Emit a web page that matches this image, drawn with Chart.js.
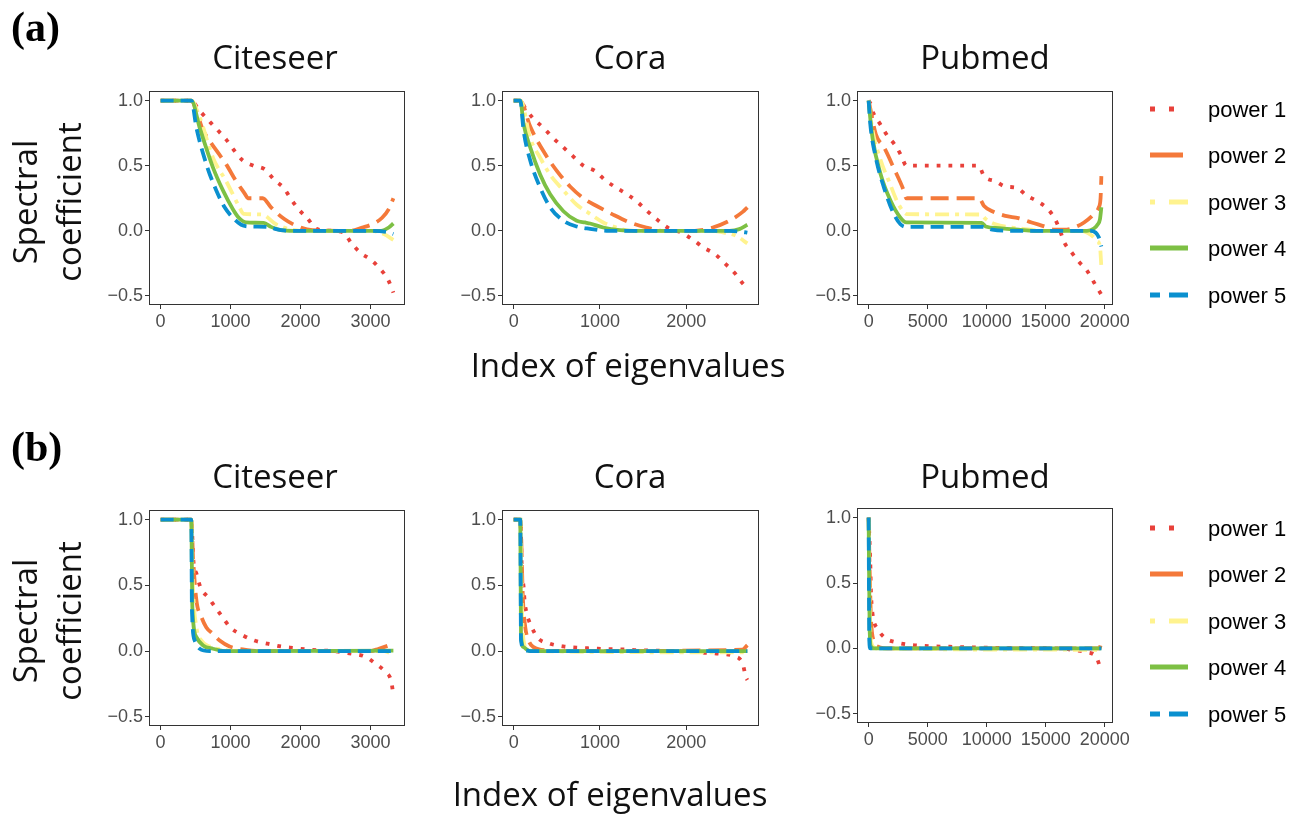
<!DOCTYPE html>
<html>
<head>
<meta charset="utf-8">
<script src="https://cdn.jsdelivr.net/npm/chart.js@4.4.1/dist/chart.umd.min.js"></script>
<style>
  body { margin: 0; background: #fff; }
  #wrap { position: relative; width: 1307px; height: 818px; overflow: hidden; }
  #wrap canvas { position: absolute; }
  #txt { position: absolute; left: 0; top: 0; pointer-events: none; }
</style>
</head>
<body>
<div id="wrap"><svg id="txt" width="1307" height="818" xmlns="http://www.w3.org/2000/svg"></svg></div>
<script>
// ---- data: [index of eigenvalue, spectral coefficient] ----
const seriesNames = ["power 1", "power 2", "power 3", "power 4", "power 5"];
const yTicks = [-0.5, 0, 0.5, 1.0];
const citeseerTicks = [0, 1000, 2000, 3000];
const coraTicks = [0, 1000, 2000];
const pubmedTicks = [0, 5000, 10000, 15000, 20000];

// (a)
const citeseerA_p1 = [[0,1],[440,1],[545,0.93],[820,0.77],[938,0.70],[1047,0.62],[1175,0.54],[1327,0.50],[1493,0.47],[1625,0.39],[1758,0.33],[1862,0.245],[1971,0.166],[2100,0.094],[2227,0.015],[2450,0],[2611,-0.013],[2725,-0.094],[2858,-0.17],[3000,-0.22],[3133,-0.29],[3251,-0.375],[3327,-0.475]];
const citeseerA_p2 = [[0,1],[440,1],[512,0.92],[600,0.78],[701,0.69],[820,0.60],[938,0.51],[1080,0.38],[1209,0.28],[1246,0.25],[1460,0.25],[1578,0.18],[1768,0.09],[1934,0.04],[2170,0.005],[2700,0],[2882,0.025],[3024,0.05],[3166,0.10],[3261,0.166],[3327,0.25]];
const citeseerA_p3 = [[0,1],[440,1],[559,0.87],[749,0.56],[938,0.38],[1128,0.18],[1185,0.13],[1450,0.125],[1649,0.05],[1839,0.013],[2000,0],[3000,0],[3190,-0.025],[3327,-0.07]];
const citeseerA_p4 = [[0,1],[440,1],[559,0.79],[749,0.485],[891,0.31],[1033,0.166],[1118,0.10],[1223,0.064],[1474,0.06],[1578,0.03],[1720,0.005],[1900,0],[3150,0],[3261,0.025],[3327,0.056]];
const citeseerA_p5 = [[0,1],[440,1],[512,0.79],[654,0.51],[796,0.31],[915,0.18],[1033,0.10],[1152,0.046],[1270,0.033],[1507,0.03],[1720,0.005],[1900,0],[3000,0],[3261,-0.013],[3327,-0.025]];

const coraA_p1 = [[0,1],[77,1],[135,0.94],[231,0.86],[346,0.79],[462,0.71],[577,0.64],[692,0.57],[808,0.50],[942,0.46],[1058,0.39],[1192,0.33],[1327,0.275],[1442,0.217],[1558,0.145],[1673,0.08],[1800,0.018],[1942,-0.013],[2077,-0.069],[2200,-0.128],[2335,-0.18],[2454,-0.255],[2569,-0.33],[2662,-0.41],[2708,-0.435]];
const coraA_p2 = [[0,1],[77,1],[192,0.80],[346,0.61],[500,0.46],[654,0.34],[827,0.24],[962,0.19],[1135,0.13],[1346,0.064],[1538,0.025],[1731,0],[2100,0],[2308,0.025],[2500,0.077],[2654,0.145],[2708,0.18]];
const coraA_p3 = [[0,1],[80,1],[192,0.71],[308,0.56],[423,0.43],[577,0.31],[731,0.20],[885,0.13],[1038,0.064],[1192,0.025],[1346,0],[2300,0],[2423,-0.013],[2577,-0.038],[2708,-0.097]];
const coraA_p4 = [[0,1],[77,1],[115,0.82],[192,0.64],[308,0.43],[423,0.28],[577,0.15],[731,0.077],[827,0.064],[885,0.056],[1038,0.025],[1231,0.005],[1400,0],[2500,0],[2615,0.013],[2708,0.046]];
const coraA_p5 = [[0,1],[77,1],[115,0.77],[192,0.54],[308,0.33],[423,0.18],[577,0.077],[731,0.033],[885,0.015],[1077,0],[2500,0],[2692,-0.013],[2708,-0.015]];

const pubmedA_p1 = [[0,1],[139,0.98],[417,0.90],[972,0.82],[1583,0.73],[2222,0.66],[2750,0.58],[3194,0.50],[9306,0.50],[9778,0.42],[10750,0.38],[11583,0.34],[12556,0.33],[13389,0.27],[14222,0.23],[15139,0.17],[15750,0.097],[16167,0.013],[16583,-0.09],[17194,-0.166],[17833,-0.24],[18528,-0.31],[19083,-0.395],[19717,-0.49]];
const pubmedA_p2 = [[0,1],[139,0.94],[611,0.74],[1306,0.64],[2139,0.48],[2972,0.31],[3194,0.25],[9361,0.25],[9778,0.19],[10472,0.15],[11583,0.115],[12694,0.097],[13806,0.064],[14917,0.033],[15750,0.008],[16583,0.008],[17417,0.025],[18250,0.064],[19083,0.128],[19500,0.18],[19650,0.25],[19717,0.42]];
const pubmedA_p3 = [[0,1],[56,0.95],[333,0.77],[1028,0.54],[1722,0.38],[2556,0.20],[3250,0.128],[9500,0.125],[9917,0.09],[10750,0.05],[12139,0.025],[13806,0.008],[15000,0],[18000,0],[18806,-0.03],[19361,-0.077],[19600,-0.12],[19717,-0.28]];
const pubmedA_p4 = [[0,1],[56,0.94],[333,0.71],[1028,0.43],[1861,0.23],[2694,0.10],[3194,0.064],[9583,0.06],[9917,0.033],[11028,0.02],[12694,0.008],[14000,0],[18500,0],[19083,0.018],[19417,0.05],[19600,0.09],[19717,0.18]];
const pubmedA_p5 = [[0,1],[139,0.82],[611,0.56],[1306,0.33],[2139,0.128],[2694,0.05],[3194,0.03],[9639,0.03],[10472,0.008],[12000,0],[18800,0],[19222,-0.013],[19500,-0.05],[19717,-0.12]];

// (b)
const citeseerB_p1 = [[0,1],[438,1],[470,0.68],[512,0.59],[573,0.48],[678,0.41],[773,0.34],[882,0.26],[995,0.18],[1161,0.124],[1341,0.08],[1531,0.056],[1720,0.035],[1924,0.023],[2123,0.01],[2455,0],[2730,-0.02],[2915,-0.04],[3071,-0.096],[3213,-0.16],[3299,-0.235],[3327,-0.34]];
const citeseerB_p2 = [[0,1],[438,1],[466,0.69],[512,0.385],[583,0.26],[654,0.18],[749,0.13],[844,0.08],[986,0.035],[1175,0.013],[1412,0],[3000,0],[3118,0.018],[3261,0.043],[3327,0.056]];
const citeseerB_p3 = [[0,1],[438,1],[462,0.49],[512,0.18],[583,0.08],[701,0.035],[891,0.01],[1100,0],[3200,0],[3327,-0.033]];
const citeseerB_p4 = [[0,1],[438,1],[454,0.33],[512,0.106],[607,0.043],[749,0.018],[938,0],[3327,0.003]];
const citeseerB_p5 = [[0,1],[438,1],[448,0.31],[488,0.08],[559,0.018],[701,0],[3327,0]];

const coraB_p1 = [[0,1],[77,1],[96,0.60],[115,0.49],[127,0.38],[154,0.28],[204,0.19],[281,0.10],[423,0.056],[577,0.035],[742,0.025],[915,0.02],[1077,0.015],[1250,0.013],[1404,0.008],[1577,0.005],[1885,0],[2212,-0.013],[2377,-0.02],[2546,-0.038],[2654,-0.097],[2692,-0.20],[2708,-0.22]];
const coraB_p2 = [[0,1],[77,1],[108,0.386],[135,0.18],[173,0.08],[231,0.03],[385,0.005],[600,0],[2650,0.01],[2708,0.045]];
const coraB_p3 = [[0,1],[77,1],[96,0.31],[115,0.08],[154,0.018],[269,0],[2708,-0.01]];
const coraB_p4 = [[0,1],[77,1],[85,0.13],[115,0.03],[192,0],[2708,0]];
const coraB_p5 = [[0,1],[77,1],[85,0.08],[135,0.005],[192,0],[2708,0]];

const pubmedB_p1 = [[0,1],[139,0.66],[194,0.44],[250,0.34],[389,0.23],[750,0.15],[1389,0.08],[2361,0.046],[3472,0.028],[4583,0.02],[5750,0.015],[6861,0.013],[7972,0.01],[9222,0.008],[10472,0.005],[12694,0.003],[16306,0],[17361,-0.013],[18528,-0.03],[19306,-0.07],[19717,-0.176]];
const pubmedB_p2 = [[0,1],[83,0.62],[194,0.24],[417,0.06],[750,0.015],[1583,0],[19550,0],[19717,0.046]];
const pubmedB_p3 = [[0,1],[83,0.37],[194,0.06],[472,0.008],[700,0],[19717,-0.01]];
const pubmedB_p4 = [[0,1],[83,0.16],[194,0.015],[472,0],[19717,0]];
const pubmedB_p5 = [[0,1],[56,0.06],[139,0],[19717,0]];

// ---- styles ----
const colors = ["#E8413A", "#F4793A", "#FFF38F", "#7DC044", "#0A90CF"];
const dashes = [[3.8, 8], [18, 8], [14, 6, 4, 6], [], [13, 7]];
const legendDash = ["5 14", "33 20", "5 14 19 10", "", "10 9 19 10"];

// panel boxes (plot area in page pixels) and x ranges
const panels = [
  { series: [citeseerA_p1, citeseerA_p2, citeseerA_p3, citeseerA_p4, citeseerA_p5], ticks: citeseerTicks, xmin: -166, xmax: 3493, left: 149, top: 90, w: 256, h: 215 },
  { series: [coraA_p1, coraA_p2, coraA_p3, coraA_p4, coraA_p5], ticks: coraTicks, xmin: -135, xmax: 2843, left: 502, top: 90, w: 257, h: 215 },
  { series: [pubmedA_p1, pubmedA_p2, pubmedA_p3, pubmedA_p4, pubmedA_p5], ticks: pubmedTicks, xmin: -986, xmax: 20703, left: 857, top: 90, w: 256, h: 215 },
  { series: [citeseerB_p1, citeseerB_p2, citeseerB_p3, citeseerB_p4, citeseerB_p5], ticks: citeseerTicks, xmin: -166, xmax: 3493, left: 149, top: 509, w: 256, h: 217 },
  { series: [coraB_p1, coraB_p2, coraB_p3, coraB_p4, coraB_p5], ticks: coraTicks, xmin: -135, xmax: 2843, left: 502, top: 509, w: 257, h: 217 },
  { series: [pubmedB_p1, pubmedB_p2, pubmedB_p3, pubmedB_p4, pubmedB_p5], ticks: pubmedTicks, xmin: -986, xmax: 20703, left: 857, top: 507, w: 256, h: 216 }
];

const YW = 55, XH = 35, PT = 12, PR = 28;
const tickFont = { family: "Liberation Sans, Arial, sans-serif", size: 18 };

const boxPlugin = {
  id: "box",
  afterDraw(chart) {
    const a = chart.chartArea, c = chart.ctx;
    c.save();
    c.strokeStyle = "#333";
    c.lineWidth = 1;
    c.strokeRect(Math.round(a.left) + 0.5, Math.round(a.top) + 0.5, Math.round(a.right - a.left) - 1, Math.round(a.bottom - a.top) - 1);
    c.restore();
  }
};

const wrap = document.getElementById("wrap");
panels.forEach(p => {
  const cv = document.createElement("canvas");
  cv.width = YW + p.w + PR;
  cv.height = PT + p.h + XH;
  cv.style.left = (p.left - YW) + "px";
  cv.style.top = (p.top - PT) + "px";
  wrap.insertBefore(cv, wrap.firstChild);

  new Chart(cv.getContext("2d"), {
    type: "line",
    data: {
      datasets: p.series.map((d, i) => ({
        label: seriesNames[i],
        data: d,
        borderColor: colors[i],
        borderWidth: 3.8,
        borderDash: dashes[i],
        borderCapStyle: "butt",
        pointRadius: 0,
        fill: false,
        cubicInterpolationMode: "monotone",
        order: 5 - i
      }))
    },
    options: {
      responsive: false,
      animation: false,
      events: [],
      layout: { padding: { top: PT, right: PR, left: 0, bottom: 0 } },
      plugins: { legend: { display: false }, tooltip: { enabled: false } },
      scales: {
        x: {
          type: "linear",
          min: p.xmin,
          max: p.xmax,
          afterBuildTicks: s => { s.ticks = p.ticks.map(v => ({ value: v })); },
          afterFit: s => { s.height = XH; },
          border: { display: false },
          grid: { drawOnChartArea: false, drawTicks: true, tickLength: 4, color: "#333" },
          ticks: { padding: 2, color: "#4d4d4d", font: tickFont, autoSkip: false, maxRotation: 0, callback: v => String(v) }
        },
        y: {
          type: "linear",
          min: -0.57,
          max: 1.075,
          afterBuildTicks: s => { s.ticks = yTicks.map(v => ({ value: v })); },
          afterFit: s => { s.width = YW; },
          border: { display: false },
          grid: { drawOnChartArea: false, drawTicks: true, tickLength: 4, color: "#333" },
          ticks: { padding: 2, color: "#4d4d4d", font: tickFont, callback: v => v.toFixed(1).replace("-", "\u2212") }
        }
      }
    },
    plugins: [boxPlugin]
  });
});

// ---- text and legends ----
const svg = document.getElementById("txt");
const NS = "http://www.w3.org/2000/svg";
function txt(s, x, y, attrs) {
  const t = document.createElementNS(NS, "text");
  t.textContent = s;
  t.setAttribute("x", x);
  t.setAttribute("y", y);
  for (const k in attrs) t.setAttribute(k, attrs[k]);
  svg.appendChild(t);
}
const labelFont = { "font-family": "Open Sans, sans-serif", "font-size": 33, fill: "#111" };
const mid = Object.assign({ "text-anchor": "middle" }, labelFont);

[0, 419].forEach((dy, r) => {
  txt(r ? "(b)" : "(a)", 11, 41 + dy + (r ? 1 : 0), { "font-family": "Liberation Serif, serif", "font-weight": "bold", "font-size": 42, fill: "#000" });
  txt("Citeseer", 275, 69 + dy, mid);
  txt("Cora", 630, 69 + dy, mid);
  txt("Pubmed", 985, 69 + dy, mid);
  txt("Spectral", 0, 0, Object.assign({ transform: `translate(37,${202 + dy}) rotate(-90)` }, mid));
  txt("coefficient", 0, 0, Object.assign({ transform: `translate(81,${202 + dy}) rotate(-90)` }, mid));
  txt("Index of eigenvalues", r ? 610 : 628, r ? 806 : 377, mid);

  const rows = [111, 157, 204, 250, 297];
  rows.forEach((y, i) => {
    const ln = document.createElementNS(NS, "line");
    ln.setAttribute("x1", 1150); ln.setAttribute("x2", 1188);
    ln.setAttribute("y1", y + dy - 2); ln.setAttribute("y2", y + dy - 2);
    ln.setAttribute("stroke", colors[i]);
    ln.setAttribute("stroke-width", 5);
    if (legendDash[i]) ln.setAttribute("stroke-dasharray", legendDash[i]);
    svg.appendChild(ln);
    txt(seriesNames[i], 1208, y + dy + 6, { "font-family": "Liberation Sans, Arial, sans-serif", "font-size": 22, fill: "#000" });
  });
});
</script>
</body>
</html>
